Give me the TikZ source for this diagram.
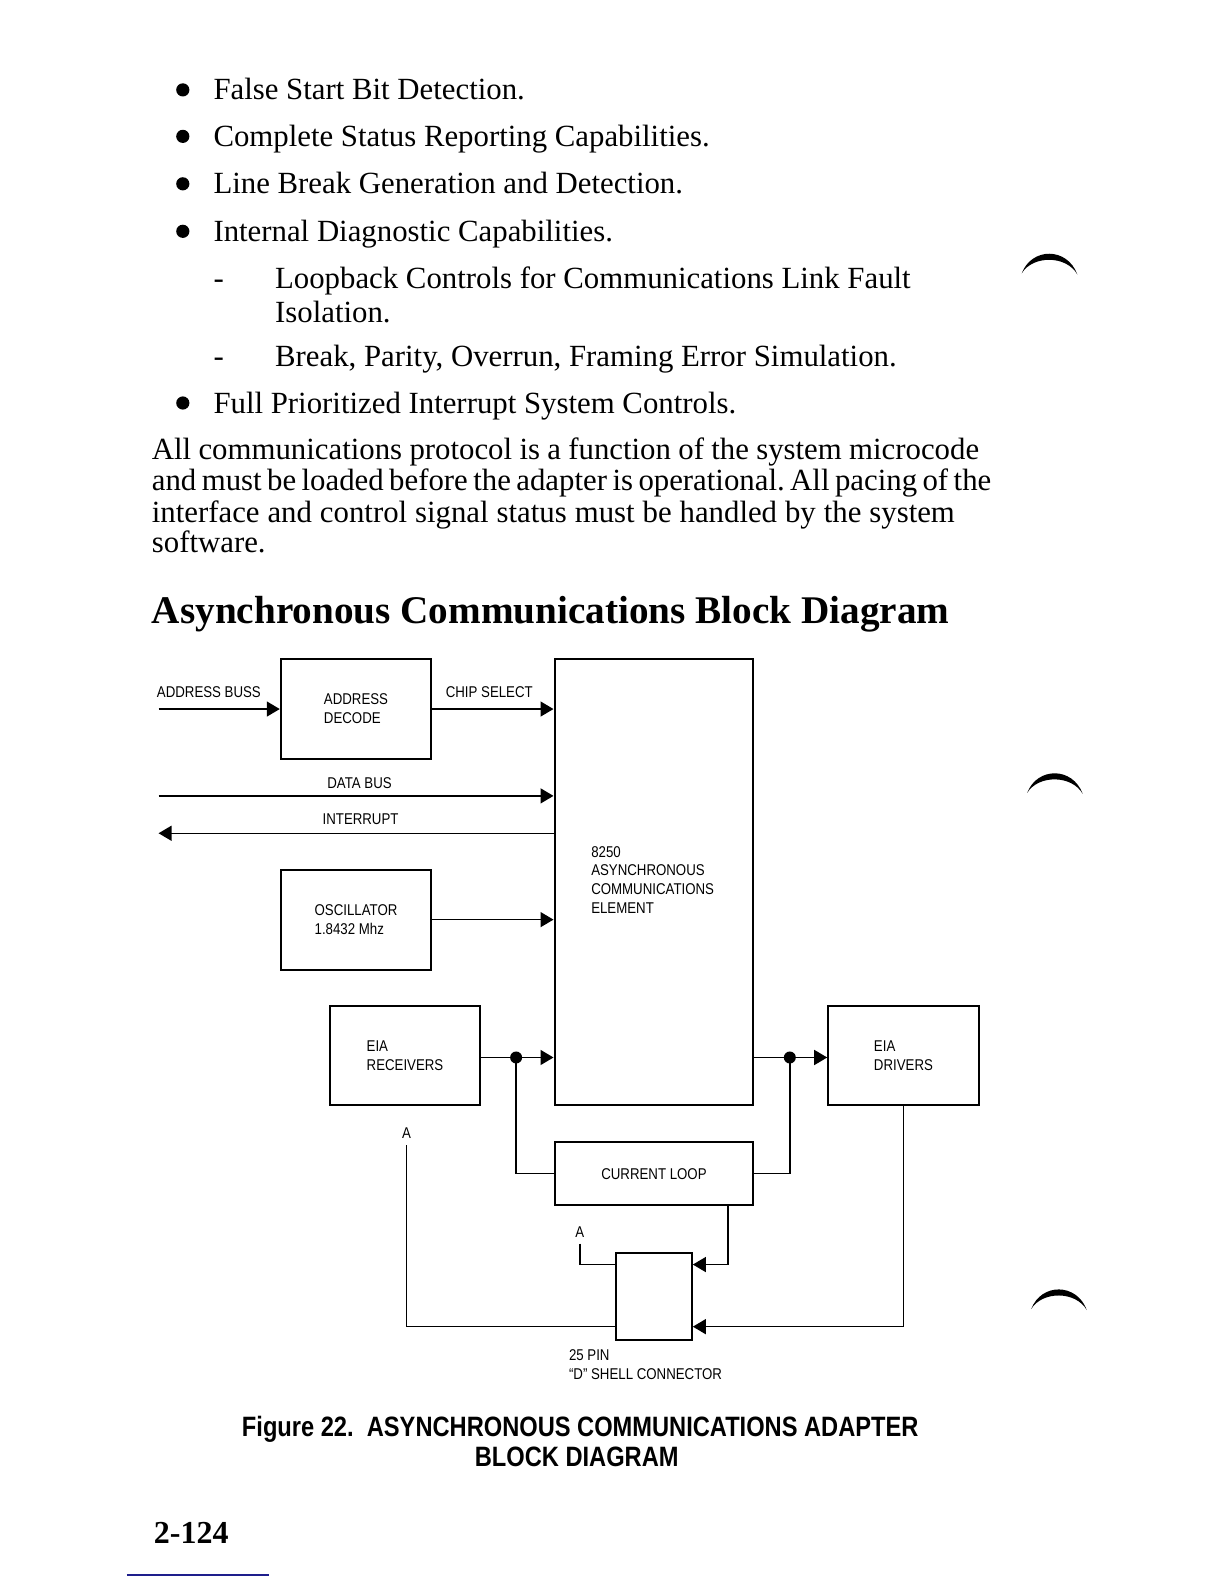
\documentclass[tikz,border=0pt]{standalone}
\usepackage{fontspec}
\usepackage{tikz}
\usetikzlibrary{arrows.meta}
\setmainfont{Liberation Serif}
\newfontfamily\diagfont[FakeStretch=0.85]{Liberation Sans}
\newfontfamily\capfont[FakeStretch=0.845]{Liberation Sans}
\newdimen\unitpx \unitpx=0.505pt
\newcommand\cuerpo{\fontsize{15.4pt}{18pt}\selectfont}
\newcommand\titulo{\bfseries\fontsize{19.6pt}{22pt}\selectfont}
\newcommand\etiq{\diagfont\fontsize{7.8pt}{9.5pt}\selectfont}
\newcommand\leyenda{\capfont\bfseries\fontsize{14pt}{16pt}\selectfont}
\definecolor{azulpie}{RGB}{30,30,140}
\frenchspacing
\tikzset{
  texto/.style={anchor=base west, inner sep=0pt, font=\cuerpo},
  rotulo/.style={inner sep=0pt, font=\etiq},
  caja/.style={draw, line width=1pt, inner sep=0pt, font=\etiq, align=left},
  linea/.style={line width=0.75pt},
  flecha/.style={linea, -{Triangle[length=6.5pt,width=7.5pt]}},
}
\begin{document}
\begin{tikzpicture}[x=0.505pt, y=-0.505pt]

			% Fondo de la pagina
			\fill[white] (0,0) rectangle (1211.9,1568.3);
			\useasboundingbox (0,0) rectangle (1211.9,1568.3);

			% Lista de funciones
			\fill (181,89) circle[radius=3.3pt];
			\node[texto] (l1) at (211,99) {False Start Bit Detection.};
			\fill (181,135) circle[radius=3.3pt];
			\node[texto] (l2) at (211,145) {Complete Status Reporting Capabilities.};
			\fill (181,182) circle[radius=3.3pt];
			\node[texto] (l3) at (211,192) {Line Break Generation and Detection.};
			\fill (181,229) circle[radius=3.3pt];
			\node[texto] (l4) at (211,239) {Internal Diagnostic Capabilities.};
			\node[texto] (g1) at (211,286) {-};
			\node[texto] (l5) at (272,286) {Loopback Controls for Communications Link Fault};
			\node[texto] (l6) at (272,319) {Isolation.};
			\node[texto] (g2) at (211,363) {-};
			\node[texto] (l7) at (272,363) {Break, Parity, Overrun, Framing Error Simulation.};
			\fill (181,399) circle[radius=3.3pt];
			\node[texto] (l8) at (211,409) {Full Prioritized Interrupt System Controls.};

			% Parrafo
			\node[texto] (p1) at (150,455) {\makebox[819\unitpx][s]{All communications protocol is a function of the system microcode}};
			\node[texto] (p2) at (150,486) {\makebox[831\unitpx][s]{and must be loaded before the adapter is operational. All pacing of the}};
			\node[texto] (p3) at (150,517) {\makebox[795\unitpx][s]{interface and control signal status must be handled by the system}};
			\node[texto] (p4) at (150,547) {software.};

			% Titulo
			\node[texto, font=\titulo] (tit) at (150,617) {Asynchronous Communications Block Diagram};

			% Bloques del diagrama
			\node[caja, minimum width=149*\unitpx, minimum height=99*\unitpx] (deco) at (352.5,701.5) {ADDRESS\\DECODE};
			\node[caja, minimum width=197*\unitpx, minimum height=442*\unitpx] (ace) at (647.5,873) {};
			\node[rotulo, anchor=north west, align=left, font=\etiq\fontsize{7.8pt}{9.4pt}\selectfont] (txace) at (585,837.5) {8250\\ASYNCHRONOUS\\COMMUNICATIONS\\ELEMENT};
			\node[caja, minimum width=149*\unitpx, minimum height=99*\unitpx] (osc) at (352.5,910.5) {OSCILLATOR\\1.8432 Mhz};
			\node[caja, minimum width=148*\unitpx, minimum height=98*\unitpx] (rec) at (401,1045) {EIA\\RECEIVERS};
			\node[caja, minimum width=149*\unitpx, minimum height=98*\unitpx] (drv) at (894.5,1045) {EIA\\DRIVERS};
			\node[caja, minimum width=197*\unitpx, minimum height=62*\unitpx] (lazo) at (647.5,1162) {CURRENT LOOP};
			\node[caja, minimum width=75*\unitpx, minimum height=86*\unitpx] (con) at (647.5,1284) {};

			% Etiquetas
			\node[rotulo, anchor=base west] (tab) at (155,690.5) {ADDRESS BUSS};
			\node[rotulo, anchor=base west] (tcs) at (441,690.5) {CHIP SELECT};
			\node[rotulo, anchor=base] (tdb) at (356,780.5) {DATA BUS};
			\node[rotulo, anchor=base] (tir) at (357,816.5) {INTERRUPT};
			\node[rotulo, anchor=base, inner ysep=3.3pt] (a1) at (402.5,1127) {A};
			\node[rotulo, anchor=base, inner ysep=3pt] (a2) at (574,1225) {A};
			\node[rotulo, anchor=base west] (tpin) at (563,1347) {25 PIN};
			\node[rotulo, anchor=base west] (tsh) at (563,1365.5) {“D” SHELL CONNECTOR};

			% Conexiones
			\coordinate (ab) at (157,702);
			\draw[flecha] (ab) -- (ab -| deco.west);
			\draw[flecha] (deco.east |- ab) -- (ab -| ace.west);
			\coordinate (db) at (157,788);
			\draw[flecha] (db) -- (db -| ace.west);
			\coordinate (ir) at (157,825);
			\draw[flecha] (ir -| ace.west) -- (ir);
			\draw[flecha] (osc.east) -- (osc.east -| ace.west);
			\coordinate (dl) at (511,1047);
			\draw[flecha] (rec.east |- dl) -- (dl -| ace.west);
			\fill (dl) circle[radius=3pt];
			\draw[linea] (dl) |- (lazo.west);
			\coordinate (dr) at (782,1047);
			\draw[flecha] (dr -| ace.east) -- (dr -| drv.west);
			\fill (dr) circle[radius=3pt];
			\draw[linea] (dr) |- (lazo.east);
			\coordinate (c1) at (721,1252);
			\draw[flecha] (lazo.south -| c1) -- (c1) -- (c1 -| con.east);
			\draw[linea] (a2.south) |- (c1 -| con.west);
			\coordinate (c2) at (894.5,1313.5);
			\draw[flecha] (drv.south) |- (c2 -| con.east);
			\draw[linea] (a1.south) |- (c2 -| con.west);

			% Leyenda de la figura
			\node[rotulo, anchor=base, font=\leyenda] (ley1) at (574.5,1422) {Figure 22.\ \ ASYNCHRONOUS COMMUNICATIONS ADAPTER};
			\node[rotulo, anchor=base, font=\leyenda] (ley2) at (571,1452) {BLOCK DIAGRAM};

			% Numero de pagina
			\node[texto, font=\bfseries\fontsize{16pt}{18pt}\selectfont] (pag) at (152,1528) {2-124};
			\draw[azulpie, line width=0.75pt] (125.7,1559.4) -- (266.3,1559.4);

			% Marcas de perforacion
			\fill[shift={(1011.6,270.6)}] (0,0) .. controls (10,-26) and (45,-26) .. (55,1) .. controls (44,-18) and (11,-18) .. cycle;
			\fill[shift={(1017,785)}] (0,0) .. controls (10,-26) and (45,-26) .. (55,1) .. controls (44,-18) and (11,-18) .. cycle;
			\fill[shift={(1021,1296)}] (0,0) .. controls (10,-26) and (45,-26) .. (55,1) .. controls (44,-18) and (11,-18) .. cycle;

		\end{tikzpicture}
\end{document}
